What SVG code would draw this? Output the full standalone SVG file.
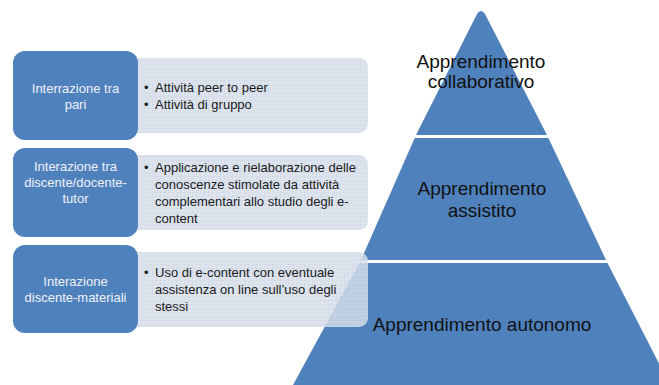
<svg xmlns="http://www.w3.org/2000/svg" width="659" height="385" viewBox="0 0 659 385">
<defs>
<pattern id="grid" width="4" height="4" patternUnits="userSpaceOnUse">
<rect width="4" height="4" fill="#d7dfeb"/>
<path d="M0 0.5H4M0.5 0V4" stroke="#c9d3e3" stroke-width="0.6" fill="none"/>
</pattern>
<style>
.tier{fill:#4f81bd}
.blue{fill:#4f81bd}
.light{fill:url(#grid);fill-opacity:0.85}
.bt{font-family:"Liberation Sans",Arial,sans-serif;font-size:13px;fill:#eef2f8;text-anchor:middle}
.lt{font-family:"Liberation Sans",Arial,sans-serif;font-size:13px;fill:#1a1a1a}
.pt{font-family:"Liberation Sans",Arial,sans-serif;font-size:19px;fill:#111;text-anchor:middle}
</style>
</defs>
<rect width="659" height="385" fill="#ffffff"/>
<g id="pyramid">
<g id="tier-collaborativo">
<path class="tier" d="M416,135 L477,14 Q481,8 485,14 L547,135 Z"/>
<text class="pt" x="481" y="68">Apprendimento</text>
<text class="pt" x="481" y="88">collaborativo</text>
</g>
<g id="tier-assistito">
<path class="tier" d="M414.7,138 L548.4,138 L606,260 L361,260 Z"/>
<text class="pt" x="482" y="195">Apprendimento</text>
<text class="pt" x="482" y="217">assistito</text>
</g>
<g id="tier-autonomo">
<path class="tier" d="M359.4,263 L607.5,263 L670,385 L293,385 Z"/>
<text class="pt" x="482" y="331">Apprendimento autonomo</text>
</g>
</g>
<g id="connectors"></g>
<g id="row-pari">
<rect class="light" x="126" y="58" width="242" height="75" rx="9"/>
<rect class="blue" x="13" y="51" width="125" height="89" rx="12"/>
<text class="bt" x="75.5" y="92.5">Interrazione tra</text>
<text class="bt" x="75.5" y="108.5">pari</text>
<text class="lt" x="144" y="91.5">•</text>
<text class="lt" x="155" y="91.5">Attività peer to peer</text>
<text class="lt" x="144" y="108.5">•</text>
<text class="lt" x="155" y="108.5">Attività di gruppo</text>
</g>
<g id="row-docente">
<rect class="light" x="126" y="155" width="242" height="75" rx="9"/>
<rect class="blue" x="13" y="148" width="125" height="89" rx="12"/>
<text class="bt" x="75.5" y="170.5">Interazione tra</text>
<text class="bt" x="75.5" y="186.5">discente/docente-</text>
<text class="bt" x="75.5" y="202.5">tutor</text>
<text class="lt" x="144" y="171.5">•</text>
<text class="lt" x="155" y="171.5">Applicazione e rielaborazione delle</text>
<text class="lt" x="155" y="188.5">conoscenze stimolate da attività</text>
<text class="lt" x="155" y="205.5">complementari allo studio degli e-</text>
<text class="lt" x="155" y="222.5">content</text>
</g>
<g id="row-materiali">
<rect class="light" x="126" y="252" width="242" height="75" rx="9"/>
<rect class="blue" x="13" y="245" width="125" height="88" rx="12"/>
<text class="bt" x="75.5" y="285.5">Interazione</text>
<text class="bt" x="75.5" y="301.5">discente-materiali</text>
<text class="lt" x="144" y="276.5">•</text>
<text class="lt" x="155" y="276.5">Uso di e-content con eventuale</text>
<text class="lt" x="155" y="293.5">assistenza on line sull’uso degli</text>
<text class="lt" x="155" y="310.5">stessi</text>
</g>
</svg>
